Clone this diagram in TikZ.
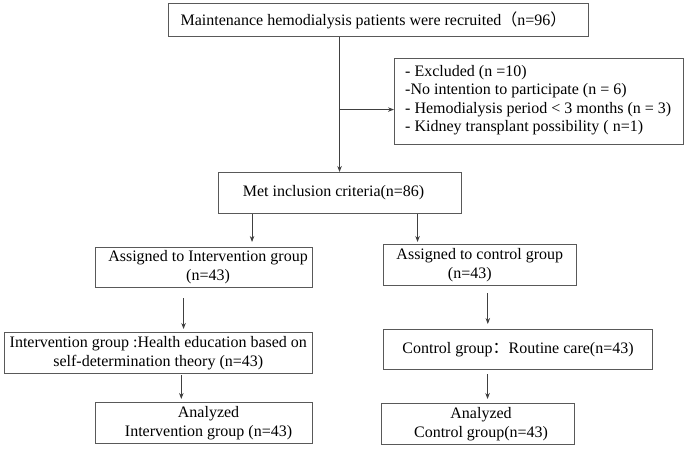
\documentclass[tikz,border=0pt]{standalone}
\usepackage{fontspec}
\setmainfont{Liberation Serif}
\newfontfamily\cjk{Noto Sans CJK SC}
\usetikzlibrary{arrows.meta}
\begin{document}
\begin{tikzpicture}[x=1pt,y=-1pt,
  box/.style={draw=black!65, line width=1.1pt, inner sep=0pt, anchor=north west},
  txt/.style={font=\fontsize{16}{19}\selectfont, align=center, inner sep=0pt},
  arr/.style={draw=black!75, line width=0.8pt, -{Stealth[length=6pt,width=4.5pt]}}]
\useasboundingbox (0,0) rectangle (685,449);
% boxes
\node[box, minimum width=420pt, minimum height=33pt] (top) at (168,3) {};
\node[box, minimum width=289pt, minimum height=86pt] (excl) at (394,58) {};
\node[box, minimum width=243pt, minimum height=41pt] (met) at (217.5,172) {};
\node[box, minimum width=217pt, minimum height=40pt] (ai) at (95,247) {};
\node[box, minimum width=192.5pt, minimum height=41pt] (ac) at (383,244) {};
\node[box, minimum width=308.5pt, minimum height=41pt] (ig) at (3.5,332) {};
\node[box, minimum width=269pt, minimum height=40pt] (cg) at (383,329) {};
\node[box, minimum width=217pt, minimum height=41pt] (al) at (95,402) {};
\node[box, minimum width=193pt, minimum height=41pt] (ar) at (381,403) {};
% texts
\node[txt] (toptxt) at ([xshift=-5pt]top.center) {Maintenance hemodialysis patients were recruited{\cjk （}n=96{\cjk ）}};
\node[txt, align=left, anchor=west, font=\fontsize{16}{18.4}\selectfont] (excltxt) at ([xshift=11pt,yshift=1.5pt]excl.west)
  {- Excluded (n =10)\\-No intention to participate (n = 6)\\- Hemodialysis period < 3 months (n = 3)\\- Kidney transplant possibility ( n=1)};
\node[txt] (mettxt) at ([xshift=-6pt]met.center) {Met inclusion criteria(n=86)};
\node[txt] (aitxt) at ([xshift=4pt]ai.center) {Assigned to Intervention group\\(n=43)};
\node[txt] (actxt) at (ac.center) {Assigned to control group\\(n=43)\rule{20pt}{0pt}};
\node[txt] (igtxt) at (ig.center) {Intervention group :Health education based on\\self-determination theory (n=43)};
\node[txt] (cgtxt) at (cg.center) {Control group{\cjk ：}Routine care(n=43)};
\node[txt] (altxt) at ([xshift=4.5pt]al.center) {Analyzed\\Intervention group (n=43)};
\node[txt] (artxt) at ([xshift=3pt]ar.center) {Analyzed\\Control group(n=43)};
% connectors
\draw[arr] (met.north |- top.south) -- (met.north);
\coordinate (ea) at ([yshift=-8pt]excl.west);
\draw[arr] (met.north |- ea) -- (ea);
\coordinate (m1) at ([xshift=-87.5pt]met.south);
\draw[arr, shorten >=5pt] (m1) -- (m1 |- ai.north);
\coordinate (m2) at ([xshift=78pt]met.south);
\draw[arr, shorten >=2pt] (m2) -- (m2 |- ac.north);
\coordinate (a1) at ([xshift=-20.5pt]ai.south);
\draw[arr, shorten <=10pt, shorten >=3pt] (a1) -- (a1 |- ig.north);
\coordinate (a2) at ([xshift=8pt]ac.south);
\draw[arr, shorten <=7pt, shorten >=5pt] (a2) -- (a2 |- cg.north);
\coordinate (i1) at ([xshift=23pt]ig.south);
\draw[arr, shorten <=1pt, shorten >=3pt] (i1) -- (i1 |- al.north);
\coordinate (c1) at ([xshift=-30.5pt]cg.south);
\draw[arr, shorten <=4pt, shorten >=4pt] (c1) -- (c1 |- ar.north);
\end{tikzpicture}
\end{document}
